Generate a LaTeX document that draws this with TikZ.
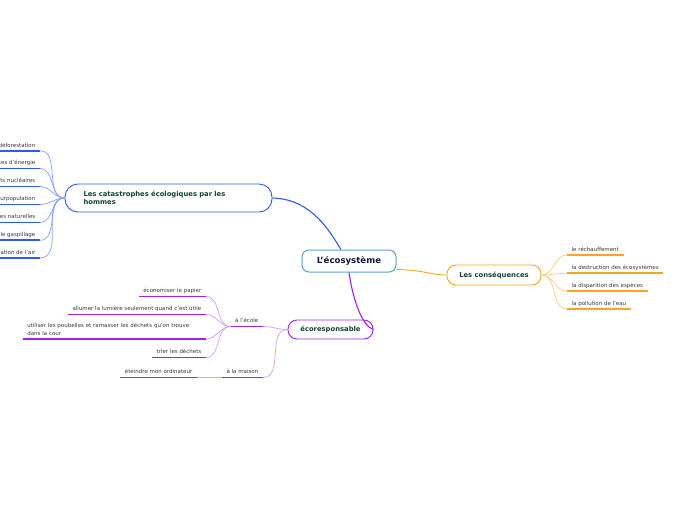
\documentclass[tikz,border=0pt]{standalone}
\usepackage{fontspec}
\setmainfont{DejaVu Sans}
\usetikzlibrary{positioning}
\definecolor{rootblue}{HTML}{5DA0D8}
\definecolor{rootink}{HTML}{0D1B3E}
\definecolor{topicink}{HTML}{124536}
\definecolor{leafink}{HTML}{3A3A3A}
\definecolor{catblue}{HTML}{2F5BEA}
\definecolor{catlight}{HTML}{86A2FF}
\definecolor{consorange}{HTML}{F5A623}
\definecolor{conslight}{HTML}{FBCB80}
\definecolor{ecopurple}{HTML}{A020F0}
\definecolor{ecolight}{HTML}{D59BFF}

\begin{document}
\begin{tikzpicture}[
    x=1pt, y=-1pt,
    root/.style={draw=rootblue, line width=1pt, fill=white, rounded corners=7pt, minimum width=94pt, minimum height=22pt, font=\fontsize{8.6}{10}\selectfont\bfseries, text=rootink},
    topic/.style={fill=white, line width=0.9pt, font=\fontsize{6.8}{8.2}\selectfont\bfseries, text=topicink},
    leaf/.style={font=\fontsize{5.5}{8}\selectfont, text=leafink, inner xsep=4.5pt, inner ysep=2pt, text depth=1.5pt},
    leaflong/.style={font=\fontsize{5.5}{8}\selectfont, text=leafink, inner xsep=4.5pt, inner ysep=3.5pt, text width=174pt, align=left},
    bline/.style={draw=catblue, line width=1.9pt},
    bcurve/.style={draw=catlight, line width=0.7pt},
    oline/.style={draw=consorange, line width=1.9pt},
    ocurve/.style={draw=conslight, line width=0.7pt},
    pline/.style={draw=ecopurple, line width=1.9pt},
    pcurve/.style={draw=ecolight, line width=0.7pt},
]
    \useasboundingbox[fill=white] (0,0) rectangle (696,520);

    % =====================================================================
    % central node and main branches
    % =====================================================================
    \node[root] (eco) at (349,261) {L'écosystème};

    \node[topic, draw=catblue, rounded corners=13pt, minimum width=207pt, minimum height=28pt, text width=170pt, align=left] (cata) at (168.5,198) {Les catastrophes écologiques par les\\hommes};
    \node[topic, draw=consorange, rounded corners=9pt, minimum width=94pt, minimum height=20pt] (cons) at (494,275) {Les conséquences};
    \node[topic, draw=ecopurple, rounded corners=9pt, minimum width=85pt, minimum height=19pt] (ecor) at (330.5,329.5) {écoresponsable};

    \draw[draw=catblue, line width=1.1pt] ([xshift=-8pt]eco.north) .. controls (330,232) and (312,199) .. (cata.east);
    \draw[draw=consorange, line width=0.9pt] ([yshift=3pt]eco.south east) .. controls (425,270) and (430,275) .. (cons.west);
    \draw[draw=ecopurple, line width=1.1pt] (eco.south) .. controls (353,300) and (362,326) .. (ecor.east);

    % =====================================================================
    % (1) catastrophes
    % =====================================================================
    \node[leaf, anchor=south east] (deforest) at (40,150.7) {déforestation};
    \node[leaf, anchor=south east] (energie) at (40,168.5) {ces d'énergie};
    \node[leaf, anchor=south east] (nucle) at (40,186.5) {ts nucléaires};
    \node[leaf, anchor=south east] (surpop) at (40,204.5) {urpopulation};
    \node[leaf, anchor=south east] (natur) at (40,222.5) {es naturelles};
    \node[leaf, anchor=south east] (gaspi) at (40,240.3) {le gaspillage};
    \node[leaf, anchor=south east] (air) at (40,258) {ation de l'air};

    \draw[bline] (deforest.south west) -- (deforest.south east);
    \draw[bline] (energie.south west) -- (energie.south east);
    \draw[bline] (nucle.south west) -- (nucle.south east);
    \draw[bline] (surpop.south west) -- (surpop.south east);
    \draw[bline] (natur.south west) -- (natur.south east);
    \draw[bline] (gaspi.south west) -- (gaspi.south east);
    \draw[bline] (air.south west) -- (air.south east);

    \draw[bcurve] (deforest.south east) to[out=0, in=180] (cata.west);
    \draw[bcurve] (energie.south east) to[out=0, in=180] (cata.west);
    \draw[bcurve] (nucle.south east) to[out=0, in=180] (cata.west);
    \draw[bcurve] (surpop.south east) to[out=0, in=180] (cata.west);
    \draw[bcurve] (natur.south east) to[out=0, in=180] (cata.west);
    \draw[bcurve] (gaspi.south east) to[out=0, in=180] (cata.west);
    \draw[bcurve] (air.south east) to[out=0, in=180] (cata.west);

    % =====================================================================
    % (2) consequences
    % =====================================================================
    \node[leaf, anchor=south west] (rechauf) at (567,255) {le réchauffement};
    \node[leaf, anchor=south west] (destruct) at (567,273.3) {la destruction des écosystèmes};
    \node[leaf, anchor=south west] (dispar) at (567,291) {la disparition des espèces};
    \node[leaf, anchor=south west] (eau) at (567,309) {la pollution de l'eau};

    \draw[oline] (rechauf.south west) -- (rechauf.south east);
    \draw[oline] (destruct.south west) -- (destruct.south east);
    \draw[oline] (dispar.south west) -- (dispar.south east);
    \draw[oline] (eau.south west) -- (eau.south east);

    \draw[ocurve] (cons.east) to[out=0, in=180] (rechauf.south west);
    \draw[ocurve] (cons.east) to[out=0, in=180] (destruct.south west);
    \draw[ocurve] (cons.east) to[out=0, in=180] (dispar.south west);
    \draw[ocurve] (cons.east) to[out=0, in=180] (eau.south west);

    % =====================================================================
    % (3) ecoresponsable
    % =====================================================================
    \node[leaf, anchor=south east] (ecole) at (263,326.5) {à l'école};
    \node[leaf, anchor=south east] (maison) at (263,377.5) {à la maison};

    \node[leaf, anchor=south east] (papier) at (206,296.5) {économiser le papier};
    \node[leaf, anchor=south east] (lumiere) at (206,314.5) {allumer la lumière seulement quand c'est utile};
    \node[leaflong, anchor=south east] (poubelle) at (206,339) {utiliser les poubelles et ramasser les déchets qu'on trouve\\dans la cour};
    \node[leaf, anchor=south east] (trier) at (206,357.5) {trier les déchets};
    \node[leaf, anchor=south east] (ordi) at (197,377.5) {éteindre mon ordinateur};

    \draw[pline] (ecole.south west) -- (ecole.south east);
    \draw[pline] (maison.south west) -- (maison.south east);
    \draw[pline] (papier.south west) -- (papier.south east);
    \draw[pline] (lumiere.south west) -- (lumiere.south east);
    \draw[pline] (poubelle.south west) -- (poubelle.south east);
    \draw[pline] (trier.south west) -- (trier.south east);
    \draw[pline] (ordi.south west) -- (ordi.south east);

    \draw[pcurve] (ecole.south east) to[out=0, in=180] (ecor.west);
    \draw[pcurve] (maison.south east) to[out=0, in=180] (ecor.west);
    \draw[pcurve] (papier.south east) to[out=0, in=180] (ecole.south west);
    \draw[pcurve] (lumiere.south east) to[out=0, in=180] (ecole.south west);
    \draw[pcurve] (poubelle.south east) to[out=0, in=180] (ecole.south west);
    \draw[pcurve] (trier.south east) to[out=0, in=180] (ecole.south west);
    \draw[pcurve] (ordi.south east) -- (maison.south west);

\end{tikzpicture}
\end{document}
